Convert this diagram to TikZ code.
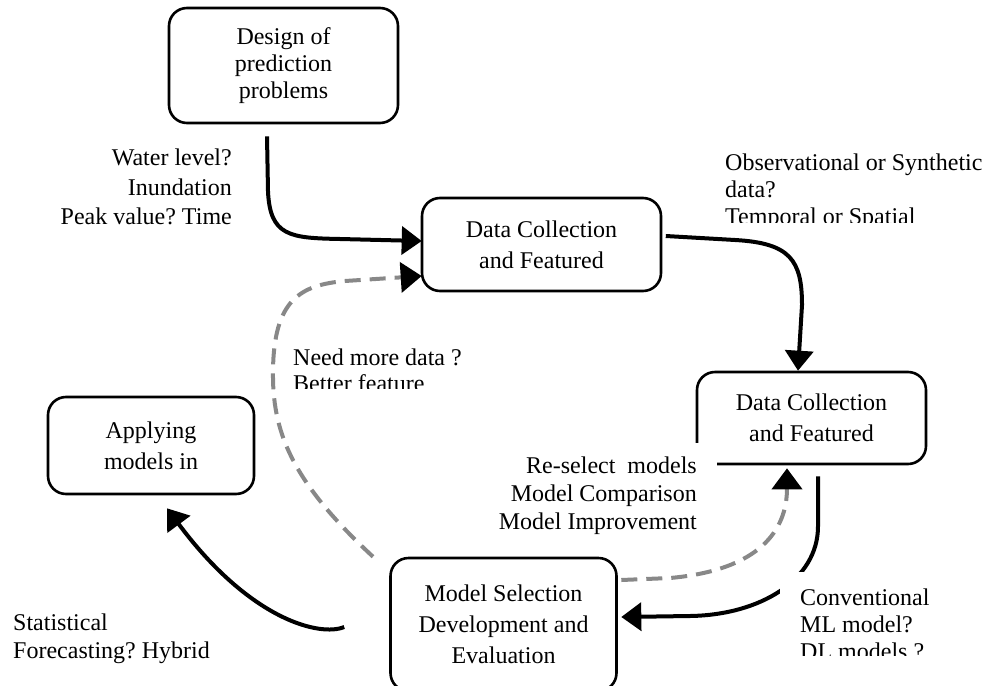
\documentclass[tikz,border=0pt]{standalone}
\usepackage{fontspec}
\setmainfont{Liberation Serif}
\usetikzlibrary{arrows.meta,calc}
\definecolor{dashgray}{RGB}{136,136,136}
\frenchspacing
\begin{document}
\begin{tikzpicture}[x=1pt,y=-1pt,
  font=\fontsize{24}{31}\selectfont\frenchspacing,
  box/.style={draw, line width=2.6pt, rounded corners=18pt, align=center, inner sep=0pt},
  conn/.style={line width=4pt, -{Triangle[length=20pt,width=28pt]}},
  dconn/.style={line width=4pt, draw=dashgray, dash pattern=on 16pt off 9pt,
                -{Triangle[length=21pt,width=30pt,color=black,fill=black]}},
  lbl/.style={inner sep=0pt}]
\useasboundingbox (0,0) rectangle (984,685);
\clip (0,0) rectangle (984,685);

% boxes
\node[box, minimum width=229pt, minimum height=115pt, font=\fontsize{24}{27}\selectfont] (design) at (283.5,65.5)
  {Design of\\ prediction\\ problems};
\node[box, minimum width=239pt, minimum height=93pt] (data1) at (541.5,244.5)
  {Data Collection\\ and Featured};
\node[box, minimum width=229pt, minimum height=92pt] (data2) at (811.5,418)
  {Data Collection\\ and Featured};
\node[box, minimum width=206pt, minimum height=97pt] (apply) at (151,445.5)
  {Applying\\ models in};
\node[box, minimum width=226pt, minimum height=133pt] (model) at (503.5,624.5)
  {Model Selection\\ Development and\\ Evaluation};

% connectors
\draw[conn] ($(design.south)+(-16.5,12)$) -- ++(1,55)
  .. controls ++(2,45) and (290,238) .. (340,239) -- ($(data1.west)+(1,-3.5)$);
\draw[conn] ($(data1.east)+(3.5,-8.5)$) -- (735,240)
  .. controls (790,243) and (802,260) .. (802,305) -- ($(data2.north)+(-13.5,0)$);
\draw[conn] ($(data2.south)+(6.5,11)$) -- ++(0,50)
  .. controls (818,580) and (760,615) .. (690,616) -- ($(model.east)+(3.5,-7.5)$);
\draw[dconn] ($(model.east)+(3.5,-44.5)$) -- (670,578)
  .. controls (760,570) and (787,530) .. ($(data2.south)+(-24.5,3)$);
\draw[dconn] ($(model.north)+(-130.5,0)$) .. controls (290,480) and (272,430) .. (273,370)
  .. controls (274,300) and (300,285) .. (345,281) -- ($(data1.west)+(1,31.5)$);
\draw[conn] ($(model.west)+(-45,2.5)$) .. controls (320,637) and (250,620) .. ($(apply.south)+(16,13)$);

% white text-box backgrounds
\fill[white] (520,443) rectangle (717,540);
\fill[white] (780,572) rectangle (984,685);

% labels
\node[lbl, anchor=east, align=right, font=\fontsize{24}{29.5}\selectfont] (lwater) at (232,187)
  {Water level?\\ Inundation\\ Peak value? Time};
\begin{scope}
  \clip (700,140) rectangle (984,222);
  \node[lbl, anchor=west, align=left, font=\fontsize{24}{27}\selectfont] (lobs) at (725,192)
    {Observational or Synthetic\\ data?\\ Temporal or Spatial};
\end{scope}
\begin{scope}
  \clip (280,330) rectangle (480,388);
  \node[lbl, anchor=west, align=left, font=\fontsize{24}{26}\selectfont] (lneed) at (293,370.5)
    {Need more data ?\\ Better feature};
\end{scope}
\node[lbl, anchor=east, align=right, font=\fontsize{24}{28}\selectfont] (lresel) at (697,495.5)
  {Re-select\ \ models\\ Model Comparison\\ Model Improvement};
\begin{scope}
  \clip (790,575) rectangle (984,655);
  \node[lbl, anchor=west, align=left, font=\fontsize{24}{27}\selectfont] (lconv) at (800,624.5)
    {Conventional\\ ML model?\\ DL models ?};
\end{scope}
\node[lbl, anchor=west, align=left, font=\fontsize{24}{28}\selectfont] (lstat) at (13,638.5)
  {Statistical\\ Forecasting? Hybrid};
\end{tikzpicture}
\end{document}
